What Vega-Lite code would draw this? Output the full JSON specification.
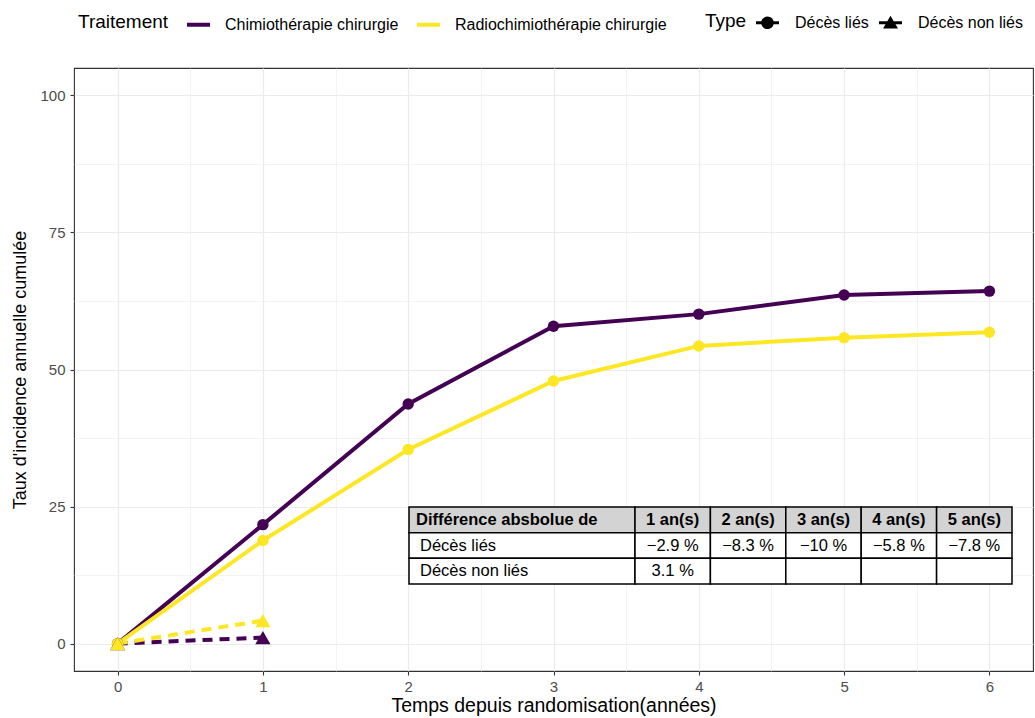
{
  "$schema": "https://vega.github.io/schema/vega-lite/v6.json",
  "width": 959,
  "height": 603,
  "autosize": {"type": "none"},
  "padding": {"left": 74, "top": 68, "right": 2, "bottom": 47},
  "background": "white",
  "config": {
    "font": "Liberation Sans",
    "view": {"stroke": "#333333", "strokeWidth": 1.1}
  },
  "datasets": {
    "series": [
      {"traitement": "Chimiothérapie chirurgie", "type": "Décès liés", "annee": 0, "taux": 0},
      {"traitement": "Chimiothérapie chirurgie", "type": "Décès liés", "annee": 1, "taux": 21.7},
      {"traitement": "Chimiothérapie chirurgie", "type": "Décès liés", "annee": 2, "taux": 43.7},
      {"traitement": "Chimiothérapie chirurgie", "type": "Décès liés", "annee": 3, "taux": 57.9},
      {"traitement": "Chimiothérapie chirurgie", "type": "Décès liés", "annee": 4, "taux": 60.1},
      {"traitement": "Chimiothérapie chirurgie", "type": "Décès liés", "annee": 5, "taux": 63.6},
      {"traitement": "Chimiothérapie chirurgie", "type": "Décès liés", "annee": 6, "taux": 64.3},
      {"traitement": "Radiochimiothérapie chirurgie", "type": "Décès liés", "annee": 0, "taux": 0},
      {"traitement": "Radiochimiothérapie chirurgie", "type": "Décès liés", "annee": 1, "taux": 18.8},
      {"traitement": "Radiochimiothérapie chirurgie", "type": "Décès liés", "annee": 2, "taux": 35.4},
      {"traitement": "Radiochimiothérapie chirurgie", "type": "Décès liés", "annee": 3, "taux": 47.9},
      {"traitement": "Radiochimiothérapie chirurgie", "type": "Décès liés", "annee": 4, "taux": 54.3},
      {"traitement": "Radiochimiothérapie chirurgie", "type": "Décès liés", "annee": 5, "taux": 55.8},
      {"traitement": "Radiochimiothérapie chirurgie", "type": "Décès liés", "annee": 6, "taux": 56.8},
      {"traitement": "Chimiothérapie chirurgie", "type": "Décès non liés", "annee": 0, "taux": 0},
      {"traitement": "Chimiothérapie chirurgie", "type": "Décès non liés", "annee": 1, "taux": 1.1},
      {"traitement": "Radiochimiothérapie chirurgie", "type": "Décès non liés", "annee": 0, "taux": 0},
      {"traitement": "Radiochimiothérapie chirurgie", "type": "Décès non liés", "annee": 1, "taux": 4.2}
    ],
    "table": [
      {"row": "Différence absbolue de", "col": "lab", "text": "Différence absbolue de", "header": true},
      {"row": "Décès liés", "col": "lab", "text": "Décès liés", "header": false},
      {"row": "Décès non liés", "col": "lab", "text": "Décès non liés", "header": false},
      {"row": "Différence absbolue de", "col": "1 an(s)", "text": "1 an(s)", "header": true},
      {"row": "Différence absbolue de", "col": "2 an(s)", "text": "2 an(s)", "header": true},
      {"row": "Différence absbolue de", "col": "3 an(s)", "text": "3 an(s)", "header": true},
      {"row": "Différence absbolue de", "col": "4 an(s)", "text": "4 an(s)", "header": true},
      {"row": "Différence absbolue de", "col": "5 an(s)", "text": "5 an(s)", "header": true},
      {"row": "Décès liés", "col": "1 an(s)", "text": "−2.9 %", "header": false},
      {"row": "Décès liés", "col": "2 an(s)", "text": "−8.3 %", "header": false},
      {"row": "Décès liés", "col": "3 an(s)", "text": "−10 %", "header": false},
      {"row": "Décès liés", "col": "4 an(s)", "text": "−5.8 %", "header": false},
      {"row": "Décès liés", "col": "5 an(s)", "text": "−7.8 %", "header": false},
      {"row": "Décès non liés", "col": "1 an(s)", "text": "3.1 %", "header": false},
      {"row": "Décès non liés", "col": "2 an(s)", "text": "", "header": false},
      {"row": "Décès non liés", "col": "3 an(s)", "text": "", "header": false},
      {"row": "Décès non liés", "col": "4 an(s)", "text": "", "header": false},
      {"row": "Décès non liés", "col": "5 an(s)", "text": "", "header": false}
    ]
  },
  "layer": [
    {
      "data": {"name": "series"},
      "encoding": {
        "x": {
          "field": "annee", "type": "quantitative",
          "scale": {"domain": [-0.3, 6.3], "nice": false, "zero": false},
          "axis": {
            "values": [0, 0.5, 1, 1.5, 2, 2.5, 3, 3.5, 4, 4.5, 5, 5.5, 6],
            "labelExpr": "datum.value % 1 === 0 ? format(datum.value, 'd') : ''",
            "domain": false,
            "gridColor": "#EBEBEB",
            "gridWidth": {"condition": {"test": "datum.value % 1 !== 0", "value": 0.6}, "value": 1.2},
            "tickOpacity": {"condition": {"test": "datum.value % 1 !== 0", "value": 0}, "value": 1},
            "tickColor": "#333333", "tickSize": 4, "tickWidth": 1.1,
            "labelFontSize": 15, "labelColor": "#4D4D4D", "labelPadding": 4,
            "title": "Temps depuis randomisation(années)",
            "titleFontSize": 19.5, "titleFontWeight": "normal", "titleColor": "black", "titlePadding": 2
          }
        },
        "y": {
          "field": "taux", "type": "quantitative",
          "scale": {"domain": [-5, 105], "nice": false, "zero": false},
          "axis": {
            "values": [0, 12.5, 25, 37.5, 50, 62.5, 75, 87.5, 100],
            "labelExpr": "datum.value % 25 === 0 ? format(datum.value, 'd') : ''",
            "domain": false,
            "gridColor": "#EBEBEB",
            "gridWidth": {"condition": {"test": "datum.value % 25 !== 0", "value": 0.6}, "value": 1.2},
            "tickOpacity": {"condition": {"test": "datum.value % 25 !== 0", "value": 0}, "value": 1},
            "tickColor": "#333333", "tickSize": 4, "tickWidth": 1.1,
            "labelFontSize": 15, "labelColor": "#4D4D4D", "labelPadding": 5,
            "title": "Taux d'incidence annuelle cumulée",
            "titleFontSize": 18, "titleFontWeight": "normal", "titleColor": "black", "titlePadding": 10
          }
        }
      },
      "layer": [
        {
          "transform": [{"filter": "datum.type === 'Décès liés'"}],
          "mark": {"type": "line", "strokeWidth": 4},
          "encoding": {
            "color": {
              "field": "traitement", "type": "nominal",
              "scale": {"domain": ["Chimiothérapie chirurgie", "Radiochimiothérapie chirurgie"], "range": ["#440154", "#FDE725"]},
              "legend": {
                "title": "Traitement", "orient": "none", "legendX": 4, "legendY": -57,
                "direction": "horizontal", "titleOrient": "left",
                "titleFontSize": 19, "titleFontWeight": "normal", "titleColor": "black", "titlePadding": 16,
                "labelFontSize": 16, "labelColor": "black", "labelOffset": 13, "labelLimit": 400,
                "symbolType": "stroke", "symbolSize": 529, "symbolStrokeWidth": 4,
                "columnPadding": 10
              }
            }
          }
        },
        {
          "transform": [{"filter": "datum.type === 'Décès non liés'"}],
          "mark": {"type": "line", "strokeWidth": 4, "strokeDash": [10, 7]},
          "encoding": {
            "color": {"field": "traitement", "type": "nominal"}
          }
        },
        {
          "transform": [{"filter": "datum.type === 'Décès liés'"}],
          "mark": {"type": "point", "filled": true, "opacity": 1, "size": 130, "shape": "circle"},
          "encoding": {
            "color": {"field": "traitement", "type": "nominal"}
          }
        },
        {
          "transform": [{"filter": "datum.type === 'Décès non liés'"}],
          "mark": {"type": "point", "filled": true, "opacity": 1, "size": 230, "shape": "triangle-up"},
          "encoding": {
            "color": {"field": "traitement", "type": "nominal"}
          }
        },
        {
          "mark": {"type": "point", "filled": true, "opacity": 0, "size": 10},
          "encoding": {
            "color": {"value": "black"},
            "shape": {
              "field": "type", "type": "nominal",
              "scale": {
                "domain": ["Décès liés", "Décès non liés"],
                "range": [
                  "M-1,-0.13H-0.5V0.13H-1Z M0.5,-0.13H1V0.13H0.5Z M0,-0.55A0.55,0.55 0 1,1 0,0.55A0.55,0.55 0 1,1 0,-0.55Z",
                  "M-1,-0.13H-0.3V0.13H-1Z M0.3,-0.13H1V0.13H0.3Z M0,-0.6L0.65,0.5L-0.65,0.5Z"
                ]
              },
              "legend": {
                "title": "Type", "orient": "none", "legendX": 631, "legendY": -57,
                "direction": "horizontal", "titleOrient": "left",
                "titleFontSize": 19, "titleFontWeight": "normal", "titleColor": "black", "titlePadding": 9,
                "labelFontSize": 16, "labelColor": "black", "labelOffset": 16, "labelLimit": 400,
                "symbolSize": 529, "symbolFillColor": "black", "symbolStrokeWidth": 0, "symbolOpacity": 1,
                "columnPadding": 10
              }
            }
          }
        }
      ]
    },
    {
      "data": {"name": "table"},
      "layer": [
        {
          "transform": [{"filter": "datum.col === 'lab'"}],
          "mark": {"type": "rect", "stroke": "black", "strokeWidth": 1.5},
          "encoding": {
            "x": {"field": "col", "type": "nominal", "scale": {"domain": ["lab"], "range": [335, 561], "paddingInner": 0, "paddingOuter": 0}, "axis": null},
            "y": {"field": "row", "type": "nominal", "scale": {"domain": ["Différence absbolue de", "Décès liés", "Décès non liés"], "range": [439, 516], "paddingInner": 0, "paddingOuter": 0}, "axis": null},
            "fill": {"condition": {"test": "datum.header", "value": "#D3D3D3"}, "value": "white"}
          }
        },
        {
          "transform": [{"filter": "datum.col !== 'lab'"}],
          "mark": {"type": "rect", "stroke": "black", "strokeWidth": 1.5},
          "encoding": {
            "x": {"field": "col", "type": "nominal", "scale": {"domain": ["1 an(s)", "2 an(s)", "3 an(s)", "4 an(s)", "5 an(s)"], "range": [561, 938], "paddingInner": 0, "paddingOuter": 0}, "axis": null},
            "y": {"field": "row", "type": "nominal", "scale": {"domain": ["Différence absbolue de", "Décès liés", "Décès non liés"], "range": [439, 516], "paddingInner": 0, "paddingOuter": 0}, "axis": null},
            "fill": {"condition": {"test": "datum.header", "value": "#D3D3D3"}, "value": "white"}
          }
        },
        {
          "transform": [{"filter": "datum.col === 'lab' && datum.header"}],
          "mark": {"type": "text", "align": "left", "dx": -106, "fontSize": 16.5, "fontWeight": "bold", "color": "black"},
          "encoding": {
            "x": {"field": "col", "type": "nominal", "scale": {"domain": ["lab"], "range": [335, 561], "paddingInner": 0, "paddingOuter": 0}, "axis": null},
            "y": {"field": "row", "type": "nominal", "scale": {"domain": ["Différence absbolue de", "Décès liés", "Décès non liés"], "range": [439, 516], "paddingInner": 0, "paddingOuter": 0}, "axis": null},
            "text": {"field": "text"}
          }
        },
        {
          "transform": [{"filter": "datum.col === 'lab' && !datum.header"}],
          "mark": {"type": "text", "align": "left", "dx": -102, "fontSize": 16.5, "color": "black"},
          "encoding": {
            "x": {"field": "col", "type": "nominal", "scale": {"domain": ["lab"], "range": [335, 561], "paddingInner": 0, "paddingOuter": 0}, "axis": null},
            "y": {"field": "row", "type": "nominal", "scale": {"domain": ["Différence absbolue de", "Décès liés", "Décès non liés"], "range": [439, 516], "paddingInner": 0, "paddingOuter": 0}, "axis": null},
            "text": {"field": "text"}
          }
        },
        {
          "transform": [{"filter": "datum.col !== 'lab' && datum.header"}],
          "mark": {"type": "text", "align": "center", "fontSize": 16.5, "fontWeight": "bold", "color": "black"},
          "encoding": {
            "x": {"field": "col", "type": "nominal", "scale": {"domain": ["1 an(s)", "2 an(s)", "3 an(s)", "4 an(s)", "5 an(s)"], "range": [561, 938], "paddingInner": 0, "paddingOuter": 0}, "axis": null},
            "y": {"field": "row", "type": "nominal", "scale": {"domain": ["Différence absbolue de", "Décès liés", "Décès non liés"], "range": [439, 516], "paddingInner": 0, "paddingOuter": 0}, "axis": null},
            "text": {"field": "text"}
          }
        },
        {
          "transform": [{"filter": "datum.col !== 'lab' && !datum.header"}],
          "mark": {"type": "text", "align": "center", "fontSize": 16.5, "color": "black"},
          "encoding": {
            "x": {"field": "col", "type": "nominal", "scale": {"domain": ["1 an(s)", "2 an(s)", "3 an(s)", "4 an(s)", "5 an(s)"], "range": [561, 938], "paddingInner": 0, "paddingOuter": 0}, "axis": null},
            "y": {"field": "row", "type": "nominal", "scale": {"domain": ["Différence absbolue de", "Décès liés", "Décès non liés"], "range": [439, 516], "paddingInner": 0, "paddingOuter": 0}, "axis": null},
            "text": {"field": "text"}
          }
        }
      ],
      "resolve": {"scale": {"x": "independent"}}
    }
  ],
  "resolve": {"scale": {"x": "independent", "y": "independent"}}
}
